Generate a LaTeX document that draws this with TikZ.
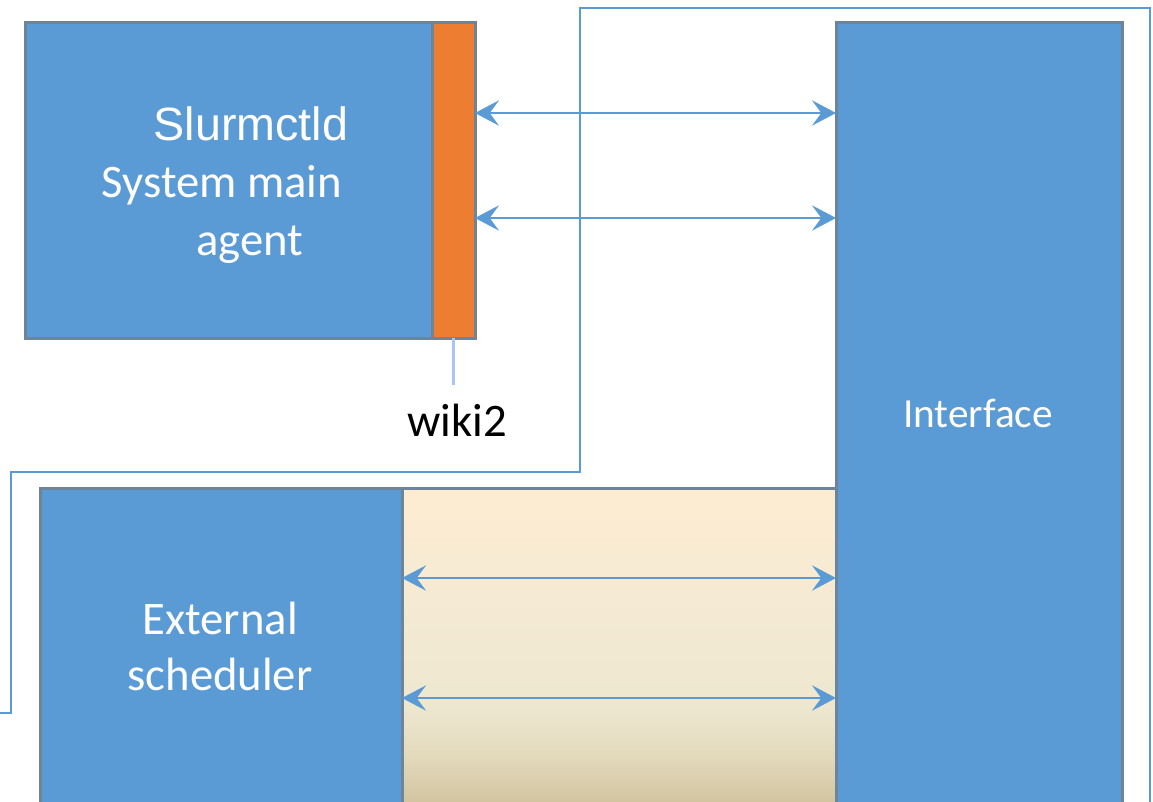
\documentclass[tikz,border=0pt]{standalone}
\usepackage{fontspec}
\setmainfont{Carlito}
\newfontfamily\arialf{Liberation Sans}
\usetikzlibrary{arrows.meta}
\definecolor{boxblue}{HTML}{5B9BD5}
\definecolor{boxedge}{HTML}{6D8499}
\definecolor{orng}{HTML}{ED7D31}
\definecolor{linkblue}{HTML}{5B9BD5}
\definecolor{stemblue}{HTML}{A8C6F2}
\definecolor{begA}{HTML}{D2C49F}
\definecolor{begB}{HTML}{E3DABD}
\definecolor{begC}{HTML}{EEE7D0}
\definecolor{begD}{HTML}{F4EAD3}
\definecolor{begE}{HTML}{FDECD2}
\pgfdeclareverticalshading{beigeshade}{100bp}{color(0bp)=(begA); color(25.5bp)=(begA); color(33bp)=(begB); color(41bp)=(begC); color(55bp)=(begD); color(75bp)=(begE); color(100bp)=(begE)}
\begin{document}
\begin{tikzpicture}[x=0.75pt,y=-0.75pt,
  basebox/.style={draw=boxedge, line width=2.25pt, anchor=north west, inner sep=0pt, outer sep=0pt},
  box/.style={basebox, fill=boxblue},
  lbl/.style={text=white, font=\fontsize{35}{42}\selectfont, anchor=base},
  link/.style={draw=linkblue, line width=1.6pt, {Stealth[length=18pt,width=19pt,inset=7pt]}-{Stealth[length=18pt,width=19pt,inset=7pt]}},
  frame/.style={draw=linkblue, line width=1.7pt}]
\useasboundingbox (0,0) rectangle (1153,801);
\clip (0,0) rectangle (1153,801);
% outer frame line
\draw[frame] (0,713) -- (11,713) -- (11,472) -- (580,472) -- (580,8) -- (1150,8) -- (1150,820);
% boxes
\node[box, minimum width=305.25pt, minimum height=237pt] (main) at (25,22) {};
\node[box, fill=orng, minimum width=32.25pt, minimum height=237pt] (wiki) at (432,22) {};
\node[box, minimum width=214.5pt, minimum height=591pt] (iface) at (836,22) {};
\node[box, minimum width=271.5pt, minimum height=238.5pt] (ext) at (40,488) {};
\node[basebox, shading=beigeshade, shade, minimum width=325.5pt, minimum height=238.5pt] (grad) at (402,488) {};
% texts
\node[lbl, font=\arialf\fontsize{35}{42}\selectfont] (t1) at (251,140) {Slurmctld};
\node[lbl] (t2) at (222,197) {System main};
\node[lbl] (t3) at (250,255) {agent};
\node[lbl] (t4) at (220,634) {External};
\node[lbl] (t5) at (220,690) {scheduler};
\node[lbl, font=\fontsize{31}{37}\selectfont] (t6) at (978,427) {Interface};
\node[font=\fontsize{35}{42}\selectfont, anchor=base, inner ysep=13.5pt] (wlbl) at (457,436) {wiki2};
% stem
\draw[stemblue, line width=2.4pt] (wiki.south) -- (wiki.south |- wlbl.north);
% arrows
\draw[link] (wiki.east |- 0,113) -- (iface.west |- 0,113);
\draw[link] (wiki.east |- 0,218) -- (iface.west |- 0,218);
\draw[link] (ext.east |- 0,578) -- (iface.west |- 0,578);
\draw[link] (ext.east |- 0,698) -- (iface.west |- 0,698);
\end{tikzpicture}
\end{document}
